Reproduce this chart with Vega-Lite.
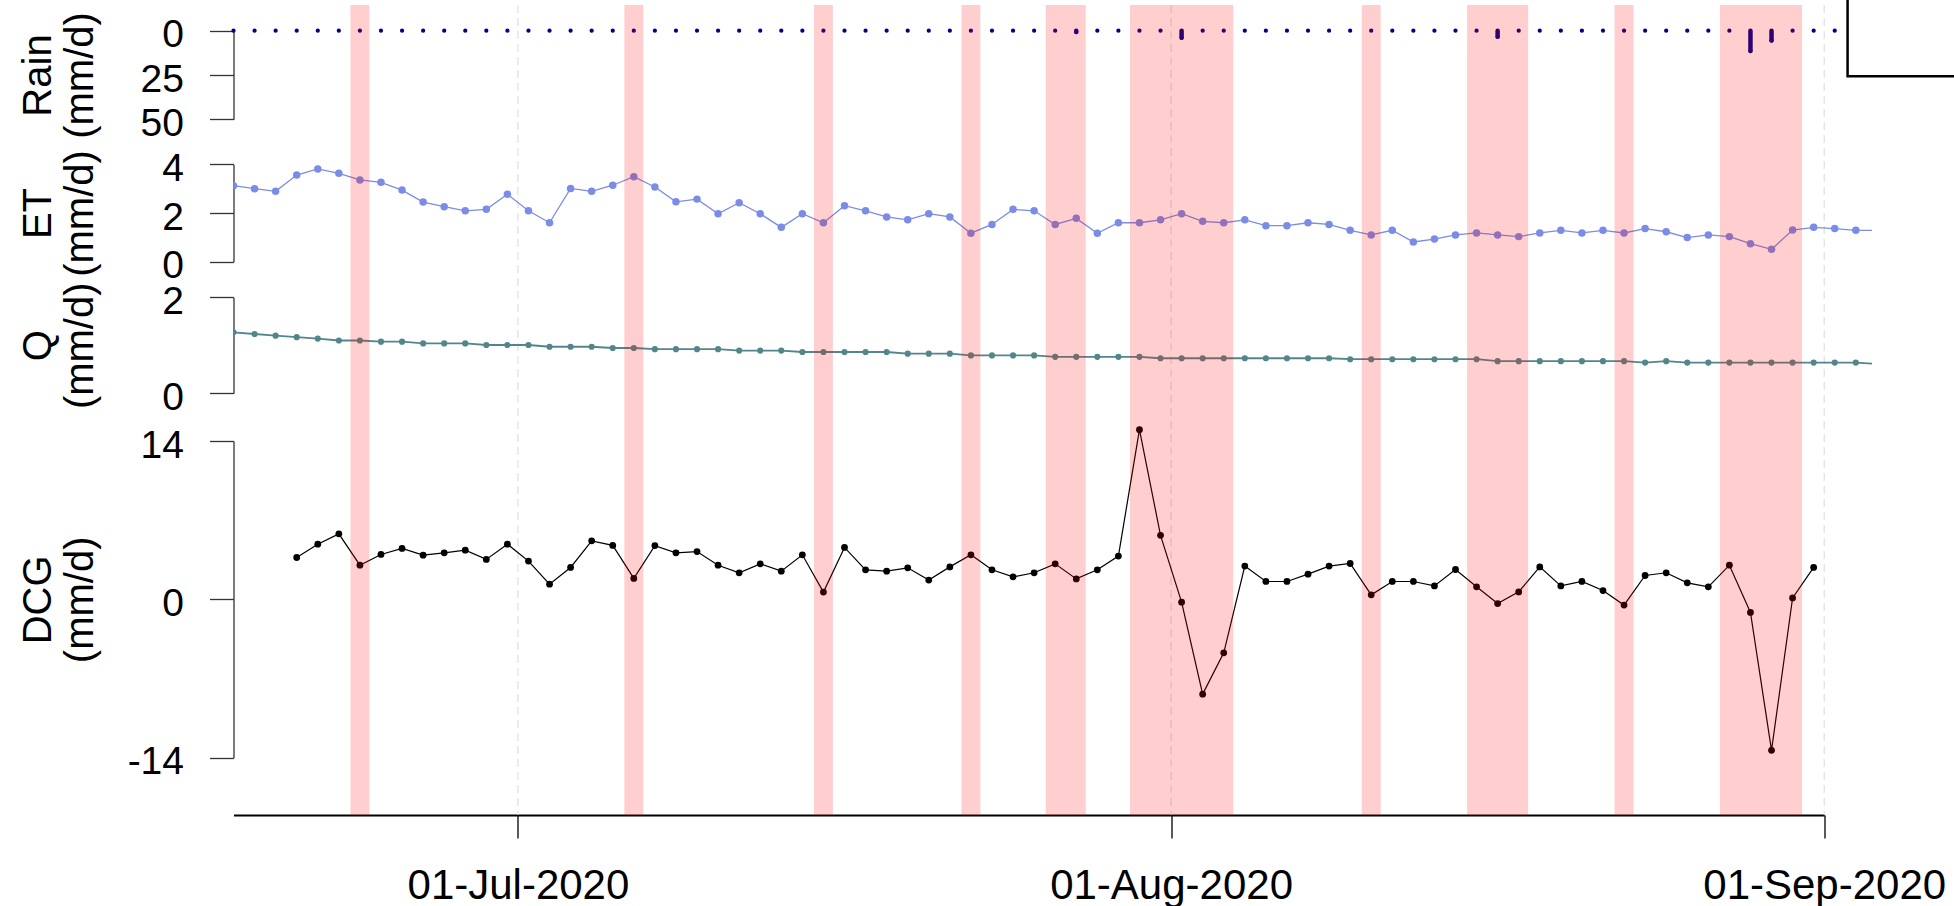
{
  "$schema": "https://vega.github.io/schema/vega-lite/v6.json",
  "width": 1638.5,
  "height": 810,
  "autosize": {"type": "none"},
  "padding": {"left": 233.5, "top": 5, "right": 82, "bottom": 91},
  "background": "white",
  "config": {
    "view": {"stroke": null},
    "axis": {"labelFont": "Liberation Sans", "titleFont": "Liberation Sans", "labelColor": "black", "titleColor": "black", "titleFontWeight": "normal", "labelFontSize": 39, "titleFontSize": 40, "labelLimit": 0}
  },
  "datasets": {
    "days": [
      {"date": "2020-06-17T12:00:00", "rain": 0, "et": 3.12, "q": 1.27, "dcg": null},
      {"date": "2020-06-18T12:00:00", "rain": 0, "et": 3.00, "q": 1.235, "dcg": null},
      {"date": "2020-06-19T12:00:00", "rain": 0, "et": 2.89, "q": 1.20, "dcg": null},
      {"date": "2020-06-20T12:00:00", "rain": 0, "et": 3.56, "q": 1.17, "dcg": 3.70},
      {"date": "2020-06-21T12:00:00", "rain": 0, "et": 3.81, "q": 1.14, "dcg": 4.88},
      {"date": "2020-06-22T12:00:00", "rain": 0, "et": 3.63, "q": 1.10, "dcg": 5.79},
      {"date": "2020-06-23T12:00:00", "rain": 0, "et": 3.36, "q": 1.10, "dcg": 3.02},
      {"date": "2020-06-24T12:00:00", "rain": 0, "et": 3.26, "q": 1.075, "dcg": 3.97},
      {"date": "2020-06-25T12:00:00", "rain": 0, "et": 2.94, "q": 1.075, "dcg": 4.50},
      {"date": "2020-06-26T12:00:00", "rain": 0, "et": 2.45, "q": 1.04, "dcg": 3.91},
      {"date": "2020-06-27T12:00:00", "rain": 0, "et": 2.26, "q": 1.04, "dcg": 4.11},
      {"date": "2020-06-28T12:00:00", "rain": 0, "et": 2.09, "q": 1.04, "dcg": 4.35},
      {"date": "2020-06-29T12:00:00", "rain": 0, "et": 2.15, "q": 1.006, "dcg": 3.53},
      {"date": "2020-06-30T12:00:00", "rain": 0, "et": 2.77, "q": 1.006, "dcg": 4.88},
      {"date": "2020-07-01T12:00:00", "rain": 0, "et": 2.09, "q": 1.006, "dcg": 3.38},
      {"date": "2020-07-02T12:00:00", "rain": 0, "et": 1.60, "q": 0.97, "dcg": 1.34},
      {"date": "2020-07-03T12:00:00", "rain": 0, "et": 3.01, "q": 0.97, "dcg": 2.82},
      {"date": "2020-07-04T12:00:00", "rain": 0, "et": 2.89, "q": 0.97, "dcg": 5.17},
      {"date": "2020-07-05T12:00:00", "rain": 0, "et": 3.14, "q": 0.944, "dcg": 4.77},
      {"date": "2020-07-06T12:00:00", "rain": 0, "et": 3.49, "q": 0.944, "dcg": 1.85},
      {"date": "2020-07-07T12:00:00", "rain": 0, "et": 3.07, "q": 0.92, "dcg": 4.75},
      {"date": "2020-07-08T12:00:00", "rain": 0, "et": 2.46, "q": 0.92, "dcg": 4.11},
      {"date": "2020-07-09T12:00:00", "rain": 0, "et": 2.57, "q": 0.92, "dcg": 4.22},
      {"date": "2020-07-10T12:00:00", "rain": 0, "et": 1.97, "q": 0.92, "dcg": 3.02},
      {"date": "2020-07-11T12:00:00", "rain": 0, "et": 2.42, "q": 0.89, "dcg": 2.35},
      {"date": "2020-07-12T12:00:00", "rain": 0, "et": 1.97, "q": 0.89, "dcg": 3.14},
      {"date": "2020-07-13T12:00:00", "rain": 0, "et": 1.41, "q": 0.89, "dcg": 2.49},
      {"date": "2020-07-14T12:00:00", "rain": 0, "et": 1.97, "q": 0.86, "dcg": 3.94},
      {"date": "2020-07-15T12:00:00", "rain": 0, "et": 1.60, "q": 0.86, "dcg": 0.64},
      {"date": "2020-07-16T12:00:00", "rain": 0, "et": 2.30, "q": 0.86, "dcg": 4.59},
      {"date": "2020-07-17T12:00:00", "rain": 0, "et": 2.09, "q": 0.86, "dcg": 2.61},
      {"date": "2020-07-18T12:00:00", "rain": 0, "et": 1.84, "q": 0.86, "dcg": 2.49},
      {"date": "2020-07-19T12:00:00", "rain": 0, "et": 1.72, "q": 0.825, "dcg": 2.79},
      {"date": "2020-07-20T12:00:00", "rain": 0, "et": 1.97, "q": 0.825, "dcg": 1.70},
      {"date": "2020-07-21T12:00:00", "rain": 0, "et": 1.84, "q": 0.825, "dcg": 2.87},
      {"date": "2020-07-22T12:00:00", "rain": 0, "et": 1.17, "q": 0.79, "dcg": 3.94},
      {"date": "2020-07-23T12:00:00", "rain": 0, "et": 1.53, "q": 0.79, "dcg": 2.61},
      {"date": "2020-07-24T12:00:00", "rain": 0, "et": 2.15, "q": 0.79, "dcg": 1.99},
      {"date": "2020-07-25T12:00:00", "rain": 0, "et": 2.09, "q": 0.79, "dcg": 2.35},
      {"date": "2020-07-26T12:00:00", "rain": 0, "et": 1.53, "q": 0.76, "dcg": 3.14},
      {"date": "2020-07-27T12:00:00", "rain": 0.8, "et": 1.78, "q": 0.76, "dcg": 1.81},
      {"date": "2020-07-28T12:00:00", "rain": 0, "et": 1.17, "q": 0.76, "dcg": 2.61},
      {"date": "2020-07-29T12:00:00", "rain": 0, "et": 1.60, "q": 0.76, "dcg": 3.83},
      {"date": "2020-07-30T12:00:00", "rain": 0, "et": 1.60, "q": 0.76, "dcg": 15.0},
      {"date": "2020-07-31T12:00:00", "rain": 0, "et": 1.72, "q": 0.73, "dcg": 5.66},
      {"date": "2020-08-01T12:00:00", "rain": 4.0, "et": 1.97, "q": 0.73, "dcg": -0.25},
      {"date": "2020-08-02T12:00:00", "rain": 0, "et": 1.66, "q": 0.73, "dcg": -8.38},
      {"date": "2020-08-03T12:00:00", "rain": 0, "et": 1.60, "q": 0.73, "dcg": -4.73},
      {"date": "2020-08-04T12:00:00", "rain": 0, "et": 1.72, "q": 0.73, "dcg": 2.94},
      {"date": "2020-08-05T12:00:00", "rain": 0, "et": 1.48, "q": 0.73, "dcg": 1.58},
      {"date": "2020-08-06T12:00:00", "rain": 0, "et": 1.48, "q": 0.73, "dcg": 1.58},
      {"date": "2020-08-07T12:00:00", "rain": 0, "et": 1.60, "q": 0.73, "dcg": 2.23},
      {"date": "2020-08-08T12:00:00", "rain": 0, "et": 1.53, "q": 0.73, "dcg": 2.94},
      {"date": "2020-08-09T12:00:00", "rain": 0, "et": 1.29, "q": 0.71, "dcg": 3.17},
      {"date": "2020-08-10T12:00:00", "rain": 0, "et": 1.10, "q": 0.71, "dcg": 0.40},
      {"date": "2020-08-11T12:00:00", "rain": 0, "et": 1.29, "q": 0.71, "dcg": 1.58},
      {"date": "2020-08-12T12:00:00", "rain": 0, "et": 0.81, "q": 0.71, "dcg": 1.58},
      {"date": "2020-08-13T12:00:00", "rain": 0, "et": 0.93, "q": 0.71, "dcg": 1.19},
      {"date": "2020-08-14T12:00:00", "rain": 0, "et": 1.10, "q": 0.71, "dcg": 2.64},
      {"date": "2020-08-15T12:00:00", "rain": 0, "et": 1.18, "q": 0.71, "dcg": 1.11},
      {"date": "2020-08-16T12:00:00", "rain": 3.4, "et": 1.10, "q": 0.67, "dcg": -0.37},
      {"date": "2020-08-17T12:00:00", "rain": 0, "et": 1.03, "q": 0.67, "dcg": 0.66},
      {"date": "2020-08-18T12:00:00", "rain": 0, "et": 1.18, "q": 0.67, "dcg": 2.87},
      {"date": "2020-08-19T12:00:00", "rain": 0, "et": 1.29, "q": 0.67, "dcg": 1.19},
      {"date": "2020-08-20T12:00:00", "rain": 0, "et": 1.18, "q": 0.67, "dcg": 1.58},
      {"date": "2020-08-21T12:00:00", "rain": 0, "et": 1.29, "q": 0.67, "dcg": 0.78},
      {"date": "2020-08-22T12:00:00", "rain": 0, "et": 1.18, "q": 0.67, "dcg": -0.51},
      {"date": "2020-08-23T12:00:00", "rain": 0, "et": 1.36, "q": 0.64, "dcg": 2.11},
      {"date": "2020-08-24T12:00:00", "rain": 0, "et": 1.23, "q": 0.67, "dcg": 2.35},
      {"date": "2020-08-25T12:00:00", "rain": 0, "et": 0.99, "q": 0.64, "dcg": 1.46},
      {"date": "2020-08-26T12:00:00", "rain": 0, "et": 1.10, "q": 0.64, "dcg": 1.11},
      {"date": "2020-08-27T12:00:00", "rain": 0, "et": 1.03, "q": 0.64, "dcg": 3.02},
      {"date": "2020-08-28T12:00:00", "rain": 11.5, "et": 0.74, "q": 0.64, "dcg": -1.16},
      {"date": "2020-08-29T12:00:00", "rain": 5.6, "et": 0.51, "q": 0.64, "dcg": -13.35},
      {"date": "2020-08-30T12:00:00", "rain": 0, "et": 1.30, "q": 0.64, "dcg": 0.13},
      {"date": "2020-08-31T12:00:00", "rain": 0, "et": 1.41, "q": 0.64, "dcg": 2.82},
      {"date": "2020-09-01T12:00:00", "rain": 0, "et": 1.36, "q": 0.64, "dcg": null},
      {"date": "2020-09-02T12:00:00", "rain": null, "et": 1.29, "q": 0.64, "dcg": null},
      {"date": "2020-09-03T12:00:00", "rain": null, "et": 1.29, "q": 0.61, "dcg": null}
    ],
    "bands": [
      {"date": "2020-06-23T01:12:00", "date2": "2020-06-23T22:48:00"},
      {"date": "2020-07-06T01:12:00", "date2": "2020-07-06T22:48:00"},
      {"date": "2020-07-15T01:12:00", "date2": "2020-07-15T22:48:00"},
      {"date": "2020-07-22T01:12:00", "date2": "2020-07-22T22:48:00"},
      {"date": "2020-07-26T01:12:00", "date2": "2020-07-27T22:48:00"},
      {"date": "2020-07-30T01:12:00", "date2": "2020-08-03T22:48:00"},
      {"date": "2020-08-10T01:12:00", "date2": "2020-08-10T22:48:00"},
      {"date": "2020-08-15T01:12:00", "date2": "2020-08-17T22:48:00"},
      {"date": "2020-08-22T01:12:00", "date2": "2020-08-22T22:48:00"},
      {"date": "2020-08-27T01:12:00", "date2": "2020-08-30T22:48:00"}
    ],
    "months": [
      {"date": "2020-07-01T00:00:00"},
      {"date": "2020-08-01T00:00:00"},
      {"date": "2020-09-01T00:00:00"}
    ],
    "legendbox": [
      {"date": "2020-09-02T02:38:00", "date2": "2020-09-12T00:00:00"}
    ]
  },
  "data": {"name": "days"},
  "encoding": {
    "x": {
      "field": "date", "type": "temporal",
      "scale": {"domain": [{"year": 2020, "month": 6, "date": 17, "hours": 12}, {"year": 2020, "month": 9, "date": 1}], "range": [0, 1590.7]},
      "axis": {
        "values": [{"year": 2020, "month": 7, "date": 1}, {"year": 2020, "month": 8, "date": 1}, {"year": 2020, "month": 9, "date": 1}],
        "format": "%d-%b-%Y", "title": null, "labelFlush": false, "labelOverlap": false,
        "labelFontSize": 42,
        "tickSize": 23, "tickColor": "black", "tickWidth": 1.3,
        "domainColor": "black", "domainWidth": 2,
        "grid": false,
        "labelPadding": 27
      }
    }
  },
  "layer": [
    {
      "data": {"name": "months"},
      "mark": {"type": "rule", "color": "#d9d9d9", "strokeDash": [8, 5], "strokeWidth": 1}
    },
    {
      "layer": [
        {
          "mark": {"type": "rule", "color": "#00008B", "strokeWidth": 4.5, "strokeCap": "round"},
          "transform": [{"filter": "datum.rain > 0"}],
          "encoding": {
            "y": {"field": "rain", "type": "quantitative",
              "scale": {"domain": [0, 50], "range": [25.7, 114.3], "nice": false, "zero": false},
              "axis": {"values": [0, 25, 50], "title": ["Rain", "(mm/d)"], "orient": "left", "grid": false,
                "tickSize": 24, "tickColor": "#333333", "tickWidth": 1.3, "domainColor": "#333333", "domainWidth": 1.3,
                "labelPadding": 26, "labelOffset": 4, "labelExpr": "toString(datum.value)",
                "titleX": -195, "titleAngle": 270, "titleBaseline": "middle", "titleAlign": "center", "titleLineHeight": 42}},
            "y2": {"datum": 0}
          }
        },
        {
          "mark": {"type": "point", "filled": true, "color": "#00008B", "size": 18, "opacity": 1},
          "transform": [{"filter": "datum.rain != null"}],
          "encoding": {
            "y": {"field": "rain", "type": "quantitative", "scale": {"domain": [0, 50], "range": [25.7, 114.3], "nice": false, "zero": false}}
          }
        },
        {
          "data": {"name": "legendbox"},
          "mark": {"type": "rect", "fill": "white", "stroke": "black", "strokeWidth": 2.5},
          "encoding": {
            "x2": {"field": "date2"},
            "y": {"datum": -40, "type": "quantitative", "scale": {"domain": [0, 50], "range": [25.7, 114.3], "nice": false, "zero": false}},
            "y2": {"datum": 25.7}
          }
        }
      ]
    },
    {
      "layer": [
        {
          "mark": {"type": "line", "color": "#7B8CE6", "strokeWidth": 1.3, "clip": true},
          "encoding": {
            "y": {"field": "et", "type": "quantitative",
              "scale": {"domain": [0, 4], "range": [256.7, 159.3], "nice": false, "zero": false},
              "axis": {"values": [0, 2, 4], "title": ["ET", "(mm/d)"], "orient": "left", "grid": false,
                "tickSize": 24, "tickColor": "#333333", "tickWidth": 1.3, "domainColor": "#333333", "domainWidth": 1.3,
                "labelPadding": 26, "labelOffset": 4, "labelExpr": "toString(datum.value)",
                "titleX": -195, "titleAngle": 270, "titleBaseline": "middle", "titleAlign": "center", "titleLineHeight": 42}}
          }
        },
        {
          "mark": {"type": "point", "filled": true, "color": "#7B8CE6", "size": 56, "opacity": 1, "clip": true},
          "encoding": {
            "y": {"field": "et", "type": "quantitative", "scale": {"domain": [0, 4], "range": [256.7, 159.3], "nice": false, "zero": false}}
          }
        }
      ]
    },
    {
      "layer": [
        {
          "mark": {"type": "line", "color": "#53868B", "strokeWidth": 1.8, "clip": true},
          "encoding": {
            "y": {"field": "q", "type": "quantitative",
              "scale": {"domain": [0, 2], "range": [388.3, 292.3], "nice": false, "zero": false},
              "axis": {"values": [0, 2], "title": ["Q", "(mm/d)"], "orient": "left", "grid": false,
                "tickSize": 24, "tickColor": "#333333", "tickWidth": 1.3, "domainColor": "#333333", "domainWidth": 1.3,
                "labelPadding": 26, "labelOffset": 4, "labelExpr": "toString(datum.value)",
                "titleX": -195, "titleAngle": 270, "titleBaseline": "middle", "titleAlign": "center", "titleLineHeight": 42}}
          }
        },
        {
          "mark": {"type": "point", "filled": true, "color": "#53868B", "size": 38, "opacity": 1, "clip": true},
          "encoding": {
            "y": {"field": "q", "type": "quantitative", "scale": {"domain": [0, 2], "range": [388.3, 292.3], "nice": false, "zero": false}}
          }
        }
      ]
    },
    {
      "layer": [
        {
          "mark": {"type": "line", "color": "black", "strokeWidth": 1.2},
          "encoding": {
            "y": {"field": "dcg", "type": "quantitative",
              "scale": {"domain": [-14, 14], "range": [752.7, 436], "nice": false, "zero": false},
              "axis": {"values": [-14, 0, 14], "title": ["DCG", "(mm/d)"], "orient": "left", "grid": false,
                "tickSize": 24, "tickColor": "#333333", "tickWidth": 1.3, "domainColor": "#333333", "domainWidth": 1.3,
                "labelPadding": 26, "labelOffset": 4, "labelExpr": "toString(datum.value)",
                "titleX": -195, "titleAngle": 270, "titleBaseline": "middle", "titleAlign": "center", "titleLineHeight": 42}}
          }
        },
        {
          "mark": {"type": "point", "filled": true, "color": "black", "size": 46, "opacity": 1},
          "encoding": {
            "y": {"field": "dcg", "type": "quantitative", "scale": {"domain": [-14, 14], "range": [752.7, 436], "nice": false, "zero": false}}
          }
        }
      ]
    },
    {
      "data": {"name": "bands"},
      "mark": {"type": "rect", "color": "#FF0000", "opacity": 0.19},
      "encoding": {
        "x2": {"field": "date2"}
      }
    }
  ],
  "resolve": {"scale": {"y": "independent"}, "axis": {"y": "independent"}}
}
